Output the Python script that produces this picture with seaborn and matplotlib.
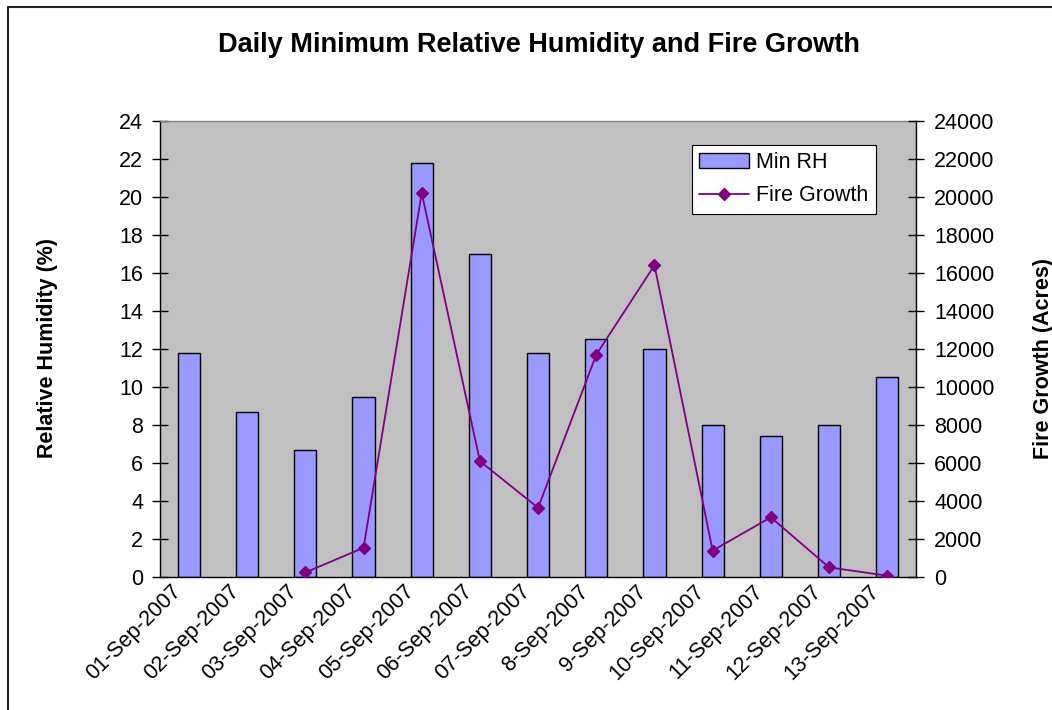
import matplotlib.pyplot as plt
import matplotlib.transforms as mtransforms
import numpy as np
import pandas as pd
import seaborn as sns
from matplotlib.lines import Line2D
from matplotlib.patches import Patch

# %% data
dates = [
    "01-Sep-2007", "02-Sep-2007", "03-Sep-2007", "04-Sep-2007", "05-Sep-2007",
    "06-Sep-2007", "07-Sep-2007", "8-Sep-2007", "9-Sep-2007", "10-Sep-2007",
    "11-Sep-2007", "12-Sep-2007", "13-Sep-2007",
]
min_rh = [11.8, 8.7, 6.7, 9.5, 21.8, 17.0, 11.8, 12.5, 12.0, 8.0, 7.4, 8.0, 10.5]
fire_growth = [np.nan, np.nan, 250, 1550, 20200, 6100, 3650, 11700, 16400, 1400, 3150, 520, 80]

df = pd.DataFrame({"date": dates, "min_rh": min_rh, "fire_growth": fire_growth})

bar_color = "#9999FF"
line_color = "#800080"
plot_bg = "#C0C0C0"
fs = 15.5

sns.set_style("white")
plt.rcParams["font.family"] = ["Liberation Sans", "DejaVu Sans"]
plt.rcParams["font.size"] = fs
plt.rcParams["text.color"] = "black"
plt.rcParams["xtick.color"] = "black"
plt.rcParams["ytick.color"] = "black"
plt.rcParams["axes.labelcolor"] = "black"

# %% figure
fig = plt.figure(figsize=(10.52, 7.10), dpi=100)
ax1 = fig.add_axes([0.152, 0.187, 0.719, 0.643])
ax1.set_facecolor(plot_bg)

sns.barplot(data=df, x="date", y="min_rh", order=dates, color=bar_color,
            saturation=1, width=0.38, edgecolor="black", linewidth=1, ax=ax1)

ax2 = ax1.twinx()
sns.pointplot(data=df, x="date", y="fire_growth", order=dates, color=line_color,
              markers="D", markersize=6, linewidth=1.3, errorbar=None, ax=ax2)

# %% axes styling
ax1.set_ylim(0, 24)
ax1.set_yticks(range(0, 25, 2))
ax2.set_ylim(0, 24000)
ax2.set_yticks(range(0, 24001, 2000))
ax1.set_xlim(-0.5, len(dates) - 0.5)

ax1.set_xticks(np.arange(len(dates) + 1) - 0.5, labels=[""] * (len(dates) + 1))
ax1.set_xticks(np.arange(len(dates)), labels=dates, minor=True)
ax1.tick_params(axis="x", which="major", direction="inout", length=12, width=1, color="black")
ax1.tick_params(axis="x", which="minor", length=0, pad=8, labelsize=fs)
ax1.tick_params(axis="y", direction="inout", length=12, width=1, color="black", pad=6, labelsize=fs, left=True)
ax2.tick_params(axis="y", direction="inout", length=12, width=1, color="black", pad=7, labelsize=fs, right=True)

offset = mtransforms.ScaledTranslation(-8 / 72, 0, fig.dpi_scale_trans)
for lbl in ax1.get_xticklabels(minor=True):
    lbl.set_rotation(45)
    lbl.set_ha("right")
    lbl.set_va("center")
    lbl.set_rotation_mode("anchor")
    lbl.set_transform(lbl.get_transform() + offset)

ax1.set_xlabel("")
ax1.set_ylabel("Relative Humidity (%)", fontsize=fs, fontweight="bold", ha="center", va="center")
ax1.yaxis.set_label_coords(-0.148, 0.502)
ax2.set_ylabel("Fire Growth (Acres)", fontsize=fs, fontweight="bold", rotation=90, ha="center", va="center")
ax2.yaxis.set_label_coords(1.168, 0.48)

for name, sp in ax1.spines.items():
    sp.set_color("black")
    sp.set_linewidth(1)
ax1.spines["top"].set_color("#808080")
ax1.spines["right"].set_visible(False)
for name, sp in ax2.spines.items():
    sp.set_visible(name == "right")
ax2.spines["right"].set_color("black")
ax2.spines["right"].set_linewidth(1)

# %% legend
handles = [
    Patch(facecolor=bar_color, edgecolor="black", linewidth=1, label="Min RH"),
    Line2D([], [], color=line_color, marker="D", markersize=6, linewidth=1.3, label="Fire Growth"),
]
leg = ax2.legend(handles=handles, loc="upper right", bbox_to_anchor=(0.947, 0.947),
                 frameon=True, fancybox=False, fontsize=fs, borderpad=0.35, framealpha=1,
                 facecolor="white", handlelength=2.3, handletextpad=0.35, labelspacing=0.55,
                 borderaxespad=0)
leg.get_frame().set_edgecolor("black")
leg.get_frame().set_linewidth(0.8)

# %% title and chart-area border (only top and left edges show in the original)
fig.text(0.512, 1 - 45 / 710, "Daily Minimum Relative Humidity and Fire Growth",
         ha="center", va="center", fontsize=19.5, fontweight="bold")
fig.add_artist(Line2D([7.5 / 1052, 1], [1 - 6.5 / 710, 1 - 6.5 / 710], transform=fig.transFigure,
                      color="#222222", linewidth=1.5))
fig.add_artist(Line2D([7.5 / 1052, 7.5 / 1052], [0, 1 - 6.5 / 710], transform=fig.transFigure,
                      color="#222222", linewidth=1.5))

fig.savefig("out.png", dpi=100)
